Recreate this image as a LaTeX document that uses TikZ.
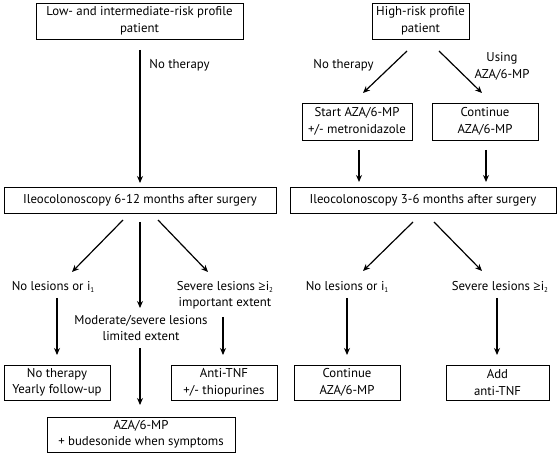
\documentclass[tikz,border=0pt]{standalone}
\usepackage{fontspec}
\setmainfont{PT Sans}
\newfontfamily\symfont{Open Sans}
\newcommand{\mygeq}{{\symfont ≥}}
\newcommand{\mysub}[1]{\raisebox{-2.5pt}{\fontsize{7}{7}\selectfont #1}}
\usetikzlibrary{calc,arrows.meta}
\begin{document}
\begin{tikzpicture}[x=1pt,y=-1pt,
  box/.style={draw,line width=0.9pt,align=center,inner sep=0pt,font=\fontsize{12.8}{16.5}\selectfont},
  lbl/.style={align=center,inner sep=0pt,font=\fontsize{12.8}{16.5}\selectfont},
  arr/.style={line width=1.2pt,-{Stealth[length=7pt,width=6pt]}}]
\useasboundingbox (0,0) rectangle (560,457);
\node[box,minimum width=207pt,minimum height=36pt] (b1) at (139.5,21) {Low- and intermediate-risk profile\\patient};
\node[box,minimum width=97pt,minimum height=36pt] (b2) at (420.5,21) {High-risk profile\\patient};
\node[lbl] (nt1) at (179.5,65) {No therapy};
\node[lbl] (nt2) at (343.5,65) {No therapy};
\node[lbl] (using) at (502,66.5) {Using\\AZA/6-MP};
\node[box,minimum width=110pt,minimum height=37pt] (start) at (357,121.5) {Start AZA/6-MP\\+/- metronidazole};
\node[box,minimum width=106pt,minimum height=37pt] (cont1) at (485,121.5) {Continue\\AZA/6-MP};
\node[box,minimum width=272pt,minimum height=26pt] (ileo1) at (140,200) {Ileocolonoscopy 6-12 months after surgery};
\node[box,minimum width=266pt,minimum height=26pt] (ileo2) at (423,200) {Ileocolonoscopy 3-6 months after surgery};
\node[lbl] (nol1) at (53,287) {No lesions or i\mysub{1}};
\node[lbl] (sev1) at (225,295) {Severe lesions \mygeq i\mysub{2}\\important extent};
\node[lbl] (mod) at (141,328) {Moderate/severe lesions\\limited extent};
\node[box,minimum width=106pt,minimum height=35pt] (ntb) at (57,382.5) {No therapy\\Yearly follow-up};
\node[box,minimum width=106pt,minimum height=35pt] (anti) at (224,382.5) {Anti-TNF\\+/- thiopurines};
\node[box,minimum width=188pt,minimum height=35pt] (aza) at (141,434.5) {AZA/6-MP\\+ budesonide when symptoms};
\node[lbl] (nol2) at (347,287) {No lesions or i\mysub{1}};
\node[lbl] (sev2) at (500,287) {Severe lesions \mygeq i\mysub{2}};
\node[box,minimum width=106pt,minimum height=35pt] (cont2) at (347,382.5) {Continue\\AZA/6-MP};
\node[box,minimum width=103pt,minimum height=35pt] (add) at (497.5,382.5) {Add\\anti-TNF};
\draw[arr] ($(b1.center)+(0.5,29)$) -- ($(ileo1.center)+(0,-17)$);
\draw[arr] ($(b2.center)+(-13.5,30)$) -- ($(start.center)+(6,-28.5)$);
\draw[arr] ($(b2.center)+(18.5,30)$) -- ($(cont1.center)+(-3,-28.5)$);
\draw[arr] ($(start.center)+(2,28.5)$) -- ($(ileo2.center)+(-64,-18)$);
\draw[arr] ($(cont1.center)+(1,28.5)$) -- ($(ileo2.center)+(63,-18)$);
\draw[arr] ($(ileo1.center)+(-17,20)$) -- ($(nol1.center)+(19,-15)$);
\draw[arr] ($(ileo1.center)+(0,22)$) -- ($(mod.center)+(-1,-20)$);
\draw[arr] ($(ileo1.center)+(18,20)$) -- ($(sev1.center)+(-17,-23)$);
\draw[arr] ($(nol1.center)+(4,11)$) -- ($(ntb.center)+(0,-27.5)$);
\draw[arr] ($(sev1.center)+(-2,22)$) -- ($(anti.center)+(-1,-27.5)$);
\draw[arr] ($(mod.center)+(-1,20)$) -- ($(aza.center)+(-1,-29.5)$);
\draw[arr] ($(ileo2.center)+(-10,22)$) -- ($(nol2.center)+(16,-16)$);
\draw[arr] ($(ileo2.center)+(11,22)$) -- ($(sev2.center)+(-18,-16)$);
\draw[arr] ($(nol2.center)+(0,11)$) -- ($(cont2.center)+(0,-27.5)$);
\draw[arr] ($(sev2.center)+(-3,11)$) -- ($(add.center)+(-0.5,-27.5)$);
\end{tikzpicture}
\end{document}
